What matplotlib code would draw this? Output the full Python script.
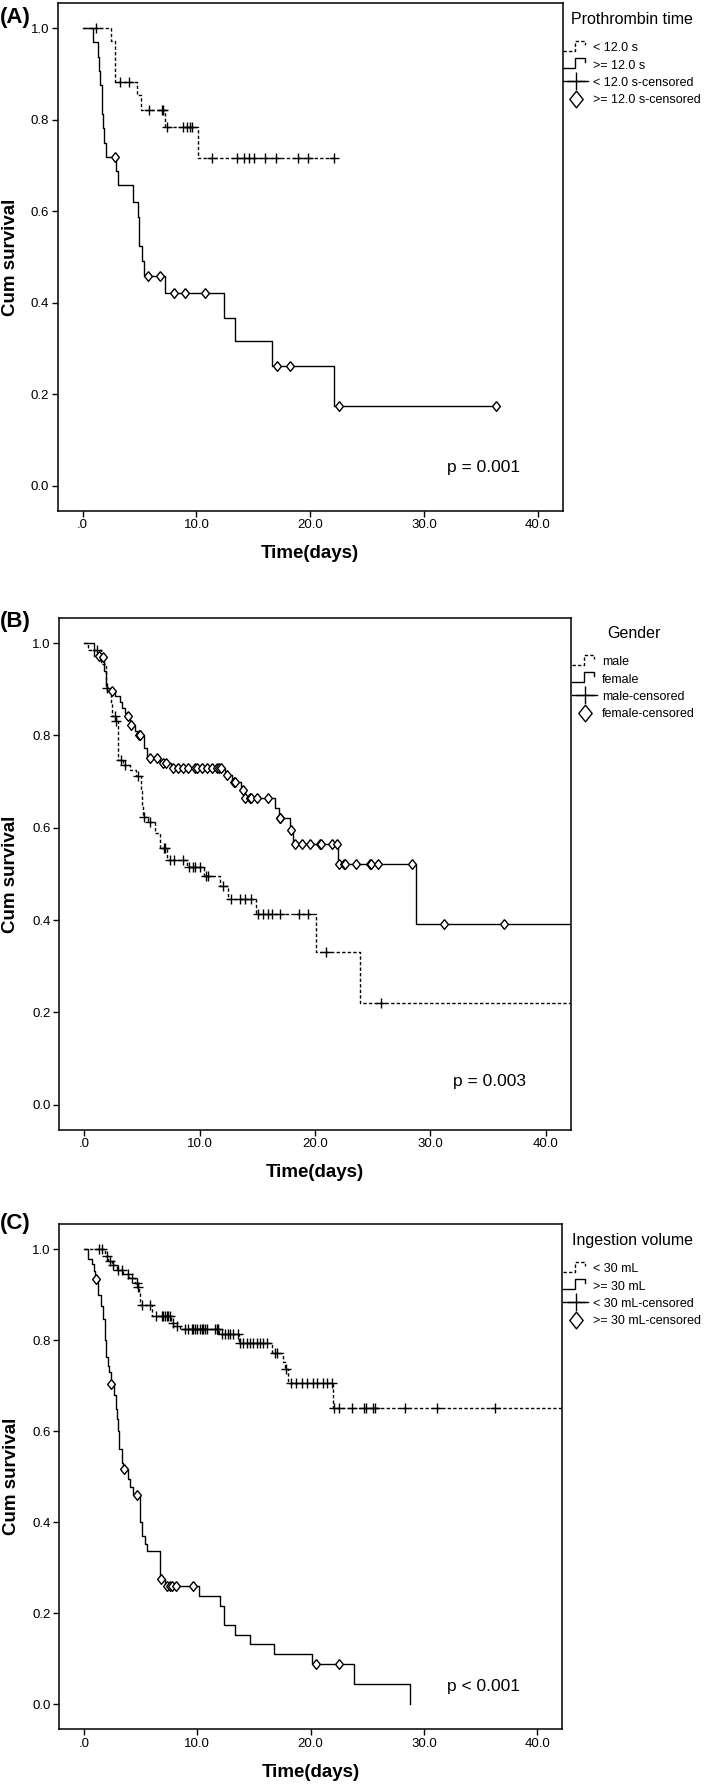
import numpy as np
import matplotlib
matplotlib.use("Agg")
import matplotlib.pyplot as plt
from matplotlib.lines import Line2D
from matplotlib.legend_handler import HandlerBase

plt.rcParams['font.family'] = ['Liberation Sans', 'DejaVu Sans']

# ---- data (time in days, cumulative survival) ----
x_ticks = [0, 10, 20, 30, 40]
x_tick_labels = [".0", "10.0", "20.0", "30.0", "40.0"]
y_ticks = [0.0, 0.2, 0.4, 0.6, 0.8, 1.0]
y_tick_labels = ["0.0", "0.2", "0.4", "0.6", "0.8", "1.0"]

# (A) Prothrombin time
a_lo_t = [0, 2.47, 2.86, 4.77, 5.17, 7.24, 10.14]
a_lo_s = [1.0, 0.971, 0.882, 0.853, 0.820, 0.784, 0.717]
a_lo_cens = [1.2, 3.3, 4.1, 5.8, 7.0, 7.1, 7.4, 8.8, 9.2, 9.4, 9.6, 11.4, 13.6,
             14.2, 14.6, 15.1, 16.0, 17.0, 18.9, 19.8, 22.1]
a_lo_end = 22.1
a_hi_t = [0, 0.95, 1.35, 1.45, 1.55, 1.7, 1.75, 1.8, 1.9, 2.05, 2.9, 3.15, 4.45,
          4.9, 4.95, 5.0, 5.25, 5.4, 7.24, 12.4, 13.4, 16.6, 22.07]
a_hi_s = [1.0, 0.969, 0.938, 0.906, 0.875, 0.844, 0.813, 0.781, 0.750, 0.719,
          0.688, 0.656, 0.621, 0.588, 0.556, 0.523, 0.490, 0.458, 0.420, 0.367,
          0.315, 0.262, 0.175]
a_hi_cens = [2.86, 5.77, 6.84, 8.07, 8.99, 10.78, 17.1, 18.25, 22.5, 36.3]
a_hi_end = 36.3

# (B) Gender
b_male_t = [0, 0.35, 1.5, 1.9, 2.3, 2.45, 2.75, 2.93, 3.35, 4.0, 4.5, 4.9, 5.0,
            5.1, 5.5, 6.1, 6.6, 7.2, 8.9, 10.4, 11.8, 12.5, 14.9, 20.1, 23.9]
b_male_s = [1.0, 0.985, 0.955, 0.902, 0.870, 0.842, 0.831, 0.747, 0.736, 0.725,
            0.712, 0.680, 0.650, 0.624, 0.613, 0.588, 0.556, 0.529, 0.515, 0.495,
            0.473, 0.446, 0.412, 0.330, 0.220]
b_male_cens = [1.1, 2.0, 2.7, 2.8, 3.22, 3.5, 4.67, 5.16, 5.68, 6.9, 7.0, 7.4,
               7.8, 8.6, 9.1, 9.4, 9.6, 10.0, 10.6, 10.7, 12.0, 12.7, 13.5, 13.9,
               14.5, 15.1, 15.5, 15.9, 16.3, 17.0, 18.6, 19.4, 21.0, 25.7]
b_fem_t = [0, 0.82, 1.45, 1.75, 1.86, 1.95, 2.7, 3.07, 3.3, 3.55, 3.75, 4.0, 4.4,
           4.6, 5.16, 5.45, 6.6, 7.5, 12.2, 12.8, 13.6, 13.9, 16.5, 16.85, 17.85,
           18.1, 22.0, 28.8]
b_fem_s = [1.0, 0.973, 0.969, 0.94, 0.906, 0.897, 0.885, 0.873, 0.86, 0.848,
           0.841, 0.823, 0.81, 0.80, 0.772, 0.75, 0.741, 0.73, 0.714, 0.698,
           0.682, 0.664, 0.642, 0.62, 0.594, 0.565, 0.521, 0.392]
b_fem_cens = [1.3, 1.6, 2.44, 3.8, 4.09, 4.75, 4.8, 5.7, 6.3, 6.84, 7.1, 7.71,
              8.14, 8.58, 9.01, 9.59, 9.74, 10.17, 10.61, 11.04, 11.48, 11.7, 11.9,
              12.35, 12.98, 13.05, 13.8, 13.95, 14.4, 14.5, 14.95, 15.9, 16.95,
              17.0, 17.9, 18.3, 18.9, 19.6, 20.45, 20.55, 21.5, 21.9, 22.05, 22.5,
              22.6, 23.6, 24.8, 24.9, 25.5, 28.4, 31.2, 36.4]

# (C) Ingestion volume
c_lo_t = [0, 1.9, 2.15, 2.45, 2.9, 3.5, 4.0, 4.5, 4.78, 4.85, 4.95, 5.0, 6.0,
          7.65, 7.95, 8.45, 11.95, 13.7, 16.6, 17.6, 17.75, 18.05, 22.0]
c_lo_s = [1.0, 0.985, 0.975, 0.965, 0.955, 0.945, 0.937, 0.927, 0.918, 0.906,
          0.89, 0.878, 0.853, 0.838, 0.832, 0.824, 0.813, 0.795, 0.773, 0.752,
          0.737, 0.706, 0.651]
c_lo_cens = [1.37, 1.59, 2.03, 2.27, 2.61, 3.05, 3.35, 3.94, 4.23, 4.67, 4.82, 5.1,
             5.85, 6.38, 6.88, 7.02, 7.17, 7.32, 7.46, 7.61, 7.9, 8.2, 8.93, 9.22,
             9.52, 9.67, 9.81, 9.96, 10.26, 10.41, 10.55, 10.7, 10.85, 11.58,
             11.73, 11.87, 12.17, 12.46, 12.75, 12.9, 13.2, 13.63, 13.78, 14.07,
             14.37, 14.66, 14.95, 15.25, 15.54, 15.83, 16.13, 16.87, 17.0, 17.84,
             18.25, 18.72, 19.22, 19.66, 20.19, 20.6, 21.08, 21.43, 21.87, 22.05,
             22.54, 23.63, 24.72, 24.9, 25.54, 25.69, 28.33, 31.13, 36.27]
c_hi_t = [0, 0.4, 0.7, 0.9, 1.0, 1.3, 1.5, 1.7, 1.85, 1.97, 2.1, 2.2, 2.38, 2.7,
          2.8, 2.9, 3.0, 3.14, 3.35, 3.5, 3.93, 4.08, 4.3, 4.96, 5.0, 5.11, 5.4,
          5.6, 6.7, 7.2, 10.2, 12.0, 12.4, 13.3, 14.7, 16.8, 20.1, 23.8, 28.8]
c_hi_s = [1.0, 0.978, 0.967, 0.952, 0.935, 0.90, 0.875, 0.846, 0.80, 0.763,
          0.744, 0.73, 0.705, 0.68, 0.65, 0.627, 0.60, 0.561, 0.531, 0.518, 0.495,
          0.477, 0.46, 0.429, 0.40, 0.37, 0.352, 0.337, 0.276, 0.261, 0.239,
          0.217, 0.175, 0.153, 0.133, 0.11, 0.088, 0.044, 0.0]
c_hi_cens = [1.08, 2.41, 3.58, 4.67, 6.85, 7.3, 7.6, 7.8, 8.1, 9.6, 20.5, 22.5]
c_hi_end = 28.8

XLIM = (-2.2, 42.2)
YLIM = (-0.055, 1.055)
DASH = (0, (2.4, 1.6))
DIAMOND = [(0, 1), (0.8, 0), (0, -1), (-0.8, 0), (0, 1)]
W, H = 709, 1788


class StepIcon(HandlerBase):
    # little step-shaped legend key like the SPSS one
    def create_artists(self, legend, orig_handle, xdescent, ydescent,
                       width, height, fontsize, trans):
        x0, y0 = -xdescent, -ydescent
        xs = [x0, x0 + 0.48 * width, x0 + 0.48 * width, x0 + 0.88 * width,
              x0 + 0.88 * width]
        ys = [y0 + 0.05 * height, y0 + 0.05 * height, y0 + 1.2 * height,
              y0 + 1.2 * height, y0 + 0.7 * height]
        ln = Line2D(xs, ys)
        self.update_prop(ln, orig_handle, legend)
        ln.set_transform(trans)
        return [ln]


def km(ax, t, s, end, ls):
    ax.step(list(t) + [end], list(s) + [s[-1]], where='post', color='k', lw=1.0,
            ls=ls, zorder=2)


def censor(ax, t, s, c, marker):
    t = np.asarray(t)
    s = np.asarray(s)
    ys = s[np.searchsorted(t, c, side='right') - 1]
    if marker == '+':
        ax.plot(c, ys, ls='none', marker='+', ms=7, mew=1.0, color='k', zorder=3)
    else:
        ax.plot(c, ys, ls='none', marker=DIAMOND, ms=7, mew=1.0, mfc='white',
                mec='k', zorder=3)


def style(ax, left_px, width_px, ptxt, ptxt_y):
    ax.set_xlim(*XLIM)
    ax.set_ylim(*YLIM)
    ax.set_xticks(x_ticks)
    ax.set_xticklabels(x_tick_labels)
    ax.set_yticks(y_ticks)
    ax.set_yticklabels(y_tick_labels)
    ax.tick_params(direction='out', length=4, width=1, labelsize=9.5, pad=2)
    for sp in ax.spines.values():
        sp.set_linewidth(1.1)
    ax.set_xlabel('Time(days)', fontsize=13.5, fontweight='bold', labelpad=10)
    ax.set_ylabel('Cum survival', fontsize=13.5, fontweight='bold', va='center')
    ax.yaxis.set_label_coords((11 - left_px) / width_px, 0.5)
    ax.text(32.0, ptxt_y, ptxt, fontsize=12.5, ha='left', va='center')


def legend(ax, title, names, x_px, y_px):
    h = [Line2D([], [], color='k', lw=1.0, ls=DASH),
         Line2D([], [], color='k', lw=1.0, ls='-'),
         Line2D([], [], color='k', lw=1.0, marker='+', ms=13, mew=1.0),
         Line2D([], [], color='k', ls='none', marker=DIAMOND, ms=12, mew=1.0,
                mfc='white', mec='k')]
    leg = ax.legend(h, names, title=title, loc='upper left',
                    bbox_to_anchor=(x_px / W, 1 - y_px / H),
                    bbox_transform=fig.transFigure, frameon=False, fontsize=9,
                    title_fontsize=11.5, handlelength=2.0, handletextpad=0.4,
                    labelspacing=0.42, borderpad=0, borderaxespad=0,
                    handler_map={h[0]: StepIcon(), h[1]: StepIcon()})
    leg._legend_box.sep = 11


fig = plt.figure(figsize=(W / 100, H / 100), dpi=100)


def px_axes(l, r, t, b):
    return fig.add_axes([l / W, 1 - b / H, (r - l) / W, (b - t) / H])


# Panel A
ax = px_axes(57.5, 563, 3, 510.7)
km(ax, a_lo_t, a_lo_s, a_lo_end, DASH)
km(ax, a_hi_t, a_hi_s, a_hi_end, '-')
censor(ax, a_lo_t, a_lo_s, a_lo_cens, '+')
censor(ax, a_hi_t, a_hi_s, a_hi_cens, 'D')
style(ax, 57.5, 505.5, 'p = 0.001', 0.039)
legend(ax, 'Prothrombin time',
       ['< 12.0 s', '>= 12.0 s', '< 12.0 s-censored', '>= 12.0 s-censored'], 563, 12)
fig.text(0, 1 - 18 / H, '(A)', fontsize=16, fontweight='bold', va='center')

# Panel B
ax = px_axes(58.8, 571, 617.7, 1130)
km(ax, b_male_t, b_male_s, XLIM[1], DASH)
km(ax, b_fem_t, b_fem_s, XLIM[1], '-')
censor(ax, b_male_t, b_male_s, b_male_cens, '+')
censor(ax, b_fem_t, b_fem_s, b_fem_cens, 'D')
style(ax, 58.8, 512.2, 'p = 0.003', 0.05)
legend(ax, 'Gender', ['male', 'female', 'male-censored', 'female-censored'], 572, 626)
fig.text(0, 1 - 622 / H, '(B)', fontsize=16, fontweight='bold', va='center')

# Panel C
ax = px_axes(58.8, 562.4, 1224.3, 1729.3)
km(ax, c_lo_t, c_lo_s, XLIM[1], DASH)
km(ax, c_hi_t, c_hi_s, c_hi_end, '-')
censor(ax, c_lo_t, c_lo_s, c_lo_cens, '+')
censor(ax, c_hi_t, c_hi_s, c_hi_cens, 'D')
style(ax, 58.8, 503.6, 'p < 0.001', 0.038)
legend(ax, 'Ingestion volume',
       ['< 30 mL', '>= 30 mL', '< 30 mL-censored', '>= 30 mL-censored'], 563, 1233)
fig.text(0, 1 - 1224 / H, '(C)', fontsize=16, fontweight='bold', va='center')

fig.savefig('out.png', dpi=100)
